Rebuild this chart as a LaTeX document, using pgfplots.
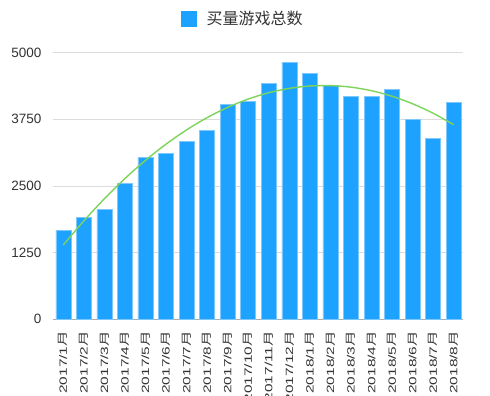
\documentclass[border=0pt]{standalone}
\usepackage{fontspec}
\setmainfont{Liberation Sans}
\newfontfamily\cjk{Noto Sans CJK SC}
\usepackage{graphicx}
\usepackage{pgfplots}
\pgfplotsset{compat=1.18}
\definecolor{barblue}{HTML}{1EA2FF}
\definecolor{baredge}{HTML}{7CC8FF}
\definecolor{trendgreen}{HTML}{7ED45A}
\definecolor{txt}{HTML}{333333}
\definecolor{gridc}{HTML}{DCDCDC}
\newcommand{\ML}[1]{\scalebox{1.47}[1]{#1{\cjk 月}}}
\begin{document}
\begin{tikzpicture}
\begin{axis}[
  at={(53pt,76.7pt)}, anchor=south west,
  scale only axis, width=410pt, height=266.6pt,
  xmin=0.5, xmax=20.45, ymin=0, ymax=5000,
  axis line style={draw=none},
  ytick={1250,2500,3750,5000},
  extra y ticks={0},
  extra y tick style={grid style={draw=gray!65, line width=1.2pt}},
  ymajorgrids, grid style={draw=gridc, line width=0.8pt},
  tick style={draw=none},
  /pgf/number format/1000 sep={},
  /pgf/number format/assume math mode=true,
  yticklabel style={font=\fontsize{13.5}{14}\selectfont, text=txt, anchor=east, xshift=-8pt},
  xtick={1,...,20},
  xticklabels={\ML{2017/1},\ML{2017/2},\ML{2017/3},\ML{2017/4},\ML{2017/5},\ML{2017/6},\ML{2017/7},\ML{2017/8},\ML{2017/9},\ML{2017/10},\ML{2017/11},\ML{2017/12},\ML{2018/1},\ML{2018/2},\ML{2018/3},\ML{2018/4},\ML{2018/5},\ML{2018/6},\ML{2018/7},\ML{2018/8}},
  xticklabel style={font=\fontsize{10.5}{11}\selectfont, text=txt, rotate=90, anchor=east, yshift=0pt, xshift=-4pt},
  ybar, bar width=15pt,
  legend style={at={(0.463,1.128)}, anchor=center, draw=none, fill=none,
    font=\cjk\fontsize{16}{16}\selectfont, text=txt},
  legend image code/.code={\fill[barblue] (0pt,-7.5pt) rectangle (15pt,7.5pt); \path (23pt,0pt);},
]
\addplot[fill=barblue, draw=baredge, line width=0.5pt] coordinates {
(1,1674) (2,1905) (3,2055) (4,2543) (5,3030) (6,3105) (7,3330) (8,3549) (9,4031) (10,4093)
(11,4418) (12,4819) (13,4618) (14,4387) (15,4181) (16,4187) (17,4318) (18,3750) (19,3394) (20,4069)};
\addlegendentry{买量游戏总数}
\addplot[sharp plot, smooth, draw=trendgreen, line width=1.4pt, forget plot] coordinates {
(1,1393) (2,1846) (3,2261) (4,2640) (5,2981) (6,3285) (7,3552) (8,3782) (9,3975) (10,4131)
(11,4250) (12,4331) (13,4376) (14,4383) (15,4354) (16,4287) (17,4183) (18,4042) (19,3864) (20,3649)};
\end{axis}
\pgfresetboundingbox
\useasboundingbox (0,0) rectangle (490pt,396pt);
\end{tikzpicture}
\end{document}
